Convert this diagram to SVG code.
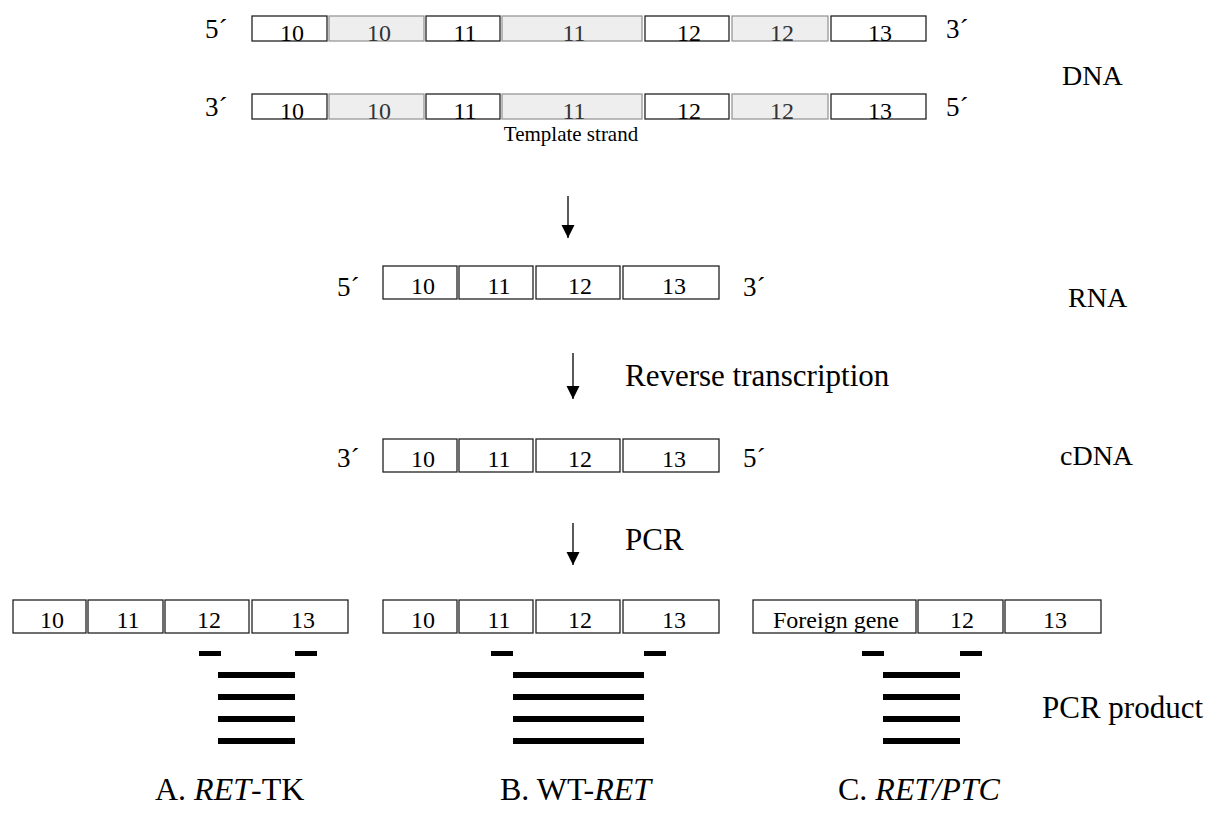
<svg xmlns="http://www.w3.org/2000/svg" width="1216" height="823" viewBox="0 0 1216 823">
<style>
text{font-family:"Liberation Serif","Times New Roman",serif;fill:#000}
.w{fill:#fff;stroke:#222;stroke-width:1.3}
.g{fill:#eeeeee;stroke:#999;stroke-width:1.3}
.n{font-size:24px;text-anchor:middle}
.gt{fill:#333}
.e{font-size:27px}
.lab{font-size:31px}
.side{font-size:28px}
.cap{font-size:32px}
.bar{fill:#000}
.arr{stroke:#000;stroke-width:1.3;fill:none}
</style>
<defs>
<marker id="ah" markerWidth="14" markerHeight="14" refX="13" refY="7" orient="auto" markerUnits="userSpaceOnUse" viewBox="0 0 14 14">
<path d="M0,0.5 L13,7 L0,13.5 Z" fill="#000"/>
</marker>
</defs>
<g id="dna-coding">
<text class="e" x="205" y="38">5´</text>
<rect class="w" x="252" y="16" width="75" height="25"/><text class="n" x="292" y="41">10</text>
<rect class="g" x="329" y="16" width="95" height="25"/><text class="n gt" x="379" y="41">10</text>
<rect class="w" x="426" y="16" width="74" height="25"/><text class="n" x="465" y="41">11</text>
<rect class="g" x="502" y="16" width="140" height="25"/><text class="n gt" x="574" y="41">11</text>
<rect class="w" x="645" y="16" width="84" height="25"/><text class="n" x="689" y="41">12</text>
<rect class="g" x="732" y="16" width="96" height="25"/><text class="n gt" x="782" y="41">12</text>
<rect class="w" x="831" y="16" width="95" height="25"/><text class="n" x="880" y="41">13</text>
<text class="e" x="946" y="38">3´</text>
</g>
<g id="dna-template">
<text class="e" x="205" y="116">3´</text>
<rect class="w" x="252" y="94" width="75" height="25"/><text class="n" x="292" y="119">10</text>
<rect class="g" x="329" y="94" width="95" height="25"/><text class="n gt" x="379" y="119">10</text>
<rect class="w" x="426" y="94" width="74" height="25"/><text class="n" x="465" y="119">11</text>
<rect class="g" x="502" y="94" width="140" height="25"/><text class="n gt" x="574" y="119">11</text>
<rect class="w" x="645" y="94" width="84" height="25"/><text class="n" x="689" y="119">12</text>
<rect class="g" x="732" y="94" width="96" height="25"/><text class="n gt" x="782" y="119">12</text>
<rect class="w" x="831" y="94" width="95" height="25"/><text class="n" x="880" y="119">13</text>
<text class="e" x="946" y="116">5´</text>
<text x="571" y="141" font-size="21" text-anchor="middle">Template strand</text>
</g>
<g id="rna">
<text class="e" x="337" y="296">5´</text>
<rect class="w" x="383" y="266" width="74" height="33"/><text class="n" x="423" y="294">10</text>
<rect class="w" x="459" y="266" width="74" height="33"/><text class="n" x="499" y="294">11</text>
<rect class="w" x="536" y="266" width="84" height="33"/><text class="n" x="580" y="294">12</text>
<rect class="w" x="623" y="266" width="96" height="33"/><text class="n" x="674" y="294">13</text>
<text class="e" x="743" y="296">3´</text>
</g>
<g id="cdna">
<text class="e" x="337" y="467">3´</text>
<rect class="w" x="383" y="439" width="74" height="33"/><text class="n" x="423" y="467">10</text>
<rect class="w" x="459" y="439" width="74" height="33"/><text class="n" x="499" y="467">11</text>
<rect class="w" x="536" y="439" width="84" height="33"/><text class="n" x="580" y="467">12</text>
<rect class="w" x="623" y="439" width="96" height="33"/><text class="n" x="674" y="467">13</text>
<text class="e" x="743" y="467">5´</text>
</g>
<g id="labels">
<text class="side" x="1062" y="85">DNA</text>
<text class="side" x="1068" y="307">RNA</text>
<text class="side" x="1060" y="465">cDNA</text>
<text class="lab" x="625" y="386">Reverse transcription</text>
<text class="lab" x="625" y="550">PCR</text>
<text class="lab" x="1042" y="718">PCR product</text>
</g>
<g id="connectors">
<line class="arr" x1="568" y1="196" x2="568" y2="238" marker-end="url(#ah)"/>
<line class="arr" x1="573" y1="353" x2="573" y2="399" marker-end="url(#ah)"/>
<line class="arr" x1="573" y1="523" x2="573" y2="565" marker-end="url(#ah)"/>
</g>
<g id="ret-tk">
<rect class="w" x="13" y="600" width="73" height="33"/><text class="n" x="52" y="628">10</text>
<rect class="w" x="88" y="600" width="75" height="33"/><text class="n" x="128" y="628">11</text>
<rect class="w" x="165" y="600" width="84" height="33"/><text class="n" x="209" y="628">12</text>
<rect class="w" x="252" y="600" width="96" height="33"/><text class="n" x="303" y="628">13</text>
<rect class="bar" x="199" y="651" width="22" height="5"/>
<rect class="bar" x="295" y="651" width="22" height="5"/>
<rect class="bar" x="218" y="672" width="77" height="6"/>
<rect class="bar" x="218" y="694" width="77" height="6"/>
<rect class="bar" x="218" y="716" width="77" height="6"/>
<rect class="bar" x="218" y="738" width="77" height="6"/>
<text class="cap" x="155" y="800">A. <tspan font-style="italic">RET</tspan>-TK</text>
</g>
<g id="wt-ret">
<rect class="w" x="383" y="600" width="74" height="33"/><text class="n" x="423" y="628">10</text>
<rect class="w" x="459" y="600" width="74" height="33"/><text class="n" x="499" y="628">11</text>
<rect class="w" x="536" y="600" width="84" height="33"/><text class="n" x="580" y="628">12</text>
<rect class="w" x="623" y="600" width="96" height="33"/><text class="n" x="674" y="628">13</text>
<rect class="bar" x="491" y="651" width="22" height="5"/>
<rect class="bar" x="644" y="651" width="22" height="5"/>
<rect class="bar" x="513" y="672" width="131" height="6"/>
<rect class="bar" x="513" y="694" width="131" height="6"/>
<rect class="bar" x="513" y="716" width="131" height="6"/>
<rect class="bar" x="513" y="738" width="131" height="6"/>
<text class="cap" x="500" y="800">B. WT-<tspan font-style="italic">RET</tspan></text>
</g>
<g id="ret-ptc">
<rect class="w" x="753" y="600" width="163" height="33"/><text class="n" x="836" y="628">Foreign gene</text>
<rect class="w" x="918" y="600" width="85" height="33"/><text class="n" x="962" y="628">12</text>
<rect class="w" x="1005" y="600" width="96" height="33"/><text class="n" x="1055" y="628">13</text>
<rect class="bar" x="862" y="651" width="22" height="5"/>
<rect class="bar" x="960" y="651" width="22" height="5"/>
<rect class="bar" x="883" y="672" width="77" height="6"/>
<rect class="bar" x="883" y="694" width="77" height="6"/>
<rect class="bar" x="883" y="716" width="77" height="6"/>
<rect class="bar" x="883" y="738" width="77" height="6"/>
<text class="cap" x="838" y="800">C. <tspan font-style="italic">RET/PTC</tspan></text>
</g>
</svg>
